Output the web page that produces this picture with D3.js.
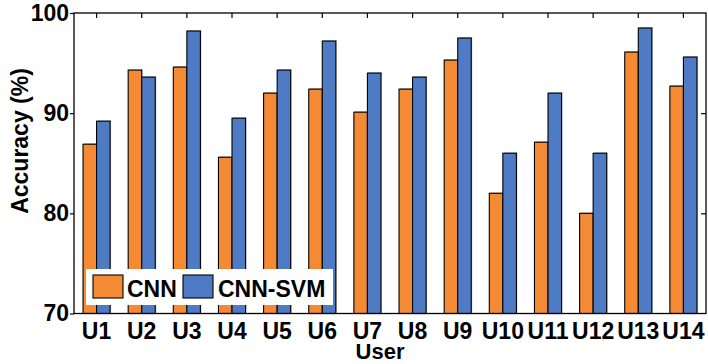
<!DOCTYPE html>
<html>
<head>
<meta charset="utf-8">
<script src="https://cdn.jsdelivr.net/npm/d3@7"></script>
<style>
  html, body { margin: 0; padding: 0; background: #fff; }
  svg { display: block; font-family: "Liberation Sans", Arial, sans-serif; font-weight: bold; }
</style>
</head>
<body>
<svg id="chart" width="708" height="364"></svg>
<script>
// Per-user accuracy (%) of the two classifiers
const users = ["U1","U2","U3","U4","U5","U6","U7","U8","U9","U10","U11","U12","U13","U14"];
const cnn    = [86.9, 94.3, 94.6, 85.6, 92.0, 92.4, 90.1, 92.4, 95.3, 82.0, 87.1, 80.0, 96.1, 92.7];
const cnnSvm = [89.2, 93.6, 98.2, 89.5, 94.3, 97.2, 94.0, 93.6, 97.5, 86.0, 92.0, 86.0, 98.5, 95.6];
const yTicks = [70, 80, 90, 100];
const seriesNames = ["CNN", "CNN-SVM"];
const colors = ["#F58A35", "#4F7BC5"];

const FONT = "Liberation Sans, Arial, sans-serif";
const FS = 23;

const svg = d3.select("#chart");
const plotLeft = 74, plotRight = 706, plotTop = 13, plotBottom = 313.5;

const x = d3.scaleBand().domain(users).range([plotLeft, plotRight]).padding(0);
const y = d3.scaleLinear().domain([70, 100]).range([plotBottom, plotTop]);
const barW = x.bandwidth() * 0.3;

const series = [cnn, cnnSvm];

// bars with a faint drop shadow
series.forEach((vals, si) => {
  const g = svg.append("g");
  const bx = i => x(users[i]) + x.bandwidth() / 2 + (si - 1) * barW;
  g.selectAll("rect.shadow").data(vals).join("rect")
    .attr("class", "shadow")
    .attr("x", (d, i) => bx(i) + 1)
    .attr("y", d => y(d) - 1)
    .attr("width", barW)
    .attr("height", d => y(70) - y(d))
    .attr("fill", "#777").attr("opacity", 0.45);
  g.selectAll("rect.bar").data(vals).join("rect")
    .attr("class", "bar")
    .attr("x", (d, i) => bx(i))
    .attr("y", d => y(d))
    .attr("width", barW)
    .attr("height", d => y(70) - y(d))
    .attr("fill", colors[si])
    .attr("stroke", "#000").attr("stroke-width", 1.1);
});

// left axis: outward ticks with labels
const yAxis = svg.append("g").attr("transform", `translate(${plotLeft},0)`)
  .call(d3.axisLeft(y).tickValues(yTicks).tickSize(4).tickPadding(1));
yAxis.select(".domain").remove();
yAxis.selectAll("text").attr("font-size", FS).attr("font-weight", "bold")
  .attr("font-family", FONT).attr("fill", "#000");
yAxis.selectAll("line").attr("stroke-width", 1.2);

// right axis: inward ticks, no labels
const yAxisR = svg.append("g").attr("transform", `translate(${plotRight},0)`)
  .call(d3.axisLeft(y).tickValues([80, 90]).tickSize(5).tickFormat(""));
yAxisR.select(".domain").remove();
yAxisR.selectAll("line").attr("stroke-width", 1.2);

// top axis: inward ticks at user centers
const xAxisT = svg.append("g").attr("transform", `translate(0,${plotTop})`)
  .call(d3.axisBottom(x).tickSize(5).tickFormat(""));
xAxisT.select(".domain").remove();
xAxisT.selectAll("line").attr("stroke-width", 1.2);

// bottom axis: labels only
const xAxisB = svg.append("g").attr("transform", `translate(0,${plotBottom})`)
  .call(d3.axisBottom(x).tickSize(0).tickPadding(9));
xAxisB.select(".domain").remove();
xAxisB.selectAll("text").attr("font-size", FS).attr("font-weight", "bold")
  .attr("font-family", FONT).attr("fill", "#000");

// plot frame
svg.append("rect")
  .attr("x", plotLeft).attr("y", plotTop)
  .attr("width", plotRight - plotLeft).attr("height", plotBottom - plotTop)
  .attr("fill", "none").attr("stroke", "#000").attr("stroke-width", 1.3);

// axis titles
svg.append("text")
  .attr("x", 380).attr("y", 359)
  .attr("text-anchor", "middle").attr("font-size", 22)
  .text("User");
svg.append("text")
  .attr("transform", "translate(28,141) rotate(-90)")
  .attr("text-anchor", "middle").attr("font-size", FS)
  .text("Accuracy (%)");

// legend
const lg = svg.append("g");
lg.append("rect").attr("x", 86).attr("y", 269).attr("width", 247).attr("height", 36).attr("fill", "#fff");
const legendItems = [
  { x: 93, tx: 127 },
  { x: 183, tx: 218 }
];
legendItems.forEach((it, i) => {
  lg.append("rect").attr("x", it.x).attr("y", 275).attr("width", 30).attr("height", 23)
    .attr("fill", colors[i]).attr("stroke", "#000").attr("stroke-width", 1.1);
  lg.append("text").attr("x", it.tx).attr("y", 297).attr("font-size", FS).text(seriesNames[i]);
});
</script>
</body>
</html>
